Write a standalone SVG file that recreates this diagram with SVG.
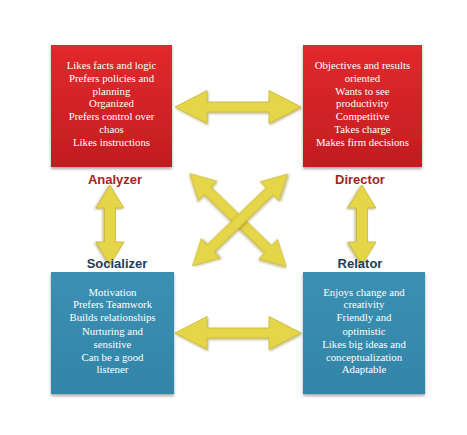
<svg xmlns="http://www.w3.org/2000/svg" width="467" height="435" viewBox="0 0 467 435">
<style>
.body{font-family:"Liberation Serif","Times New Roman",serif;font-size:10.8px;fill:#ffffff;text-anchor:middle}
.lab{font-family:"Liberation Sans",Arial,sans-serif;font-size:13px;font-weight:bold;text-anchor:middle}
.red{fill:#a82222}
.blue{fill:#1f3d5a}
.arrow{fill:#e5d548;stroke:#c9b632;stroke-width:0.8;filter:url(#ash)}
</style>
<defs>
<linearGradient id="rg" x1="0" y1="0" x2="0" y2="1">
<stop offset="0" stop-color="#e2292d"/>
<stop offset="1" stop-color="#c21d21"/>
</linearGradient>
<linearGradient id="bg" x1="0" y1="0" x2="0" y2="1">
<stop offset="0" stop-color="#3b90b2"/>
<stop offset="1" stop-color="#3385a8"/>
</linearGradient>
<filter id="bsh" x="-10%" y="-10%" width="120%" height="125%">
<feDropShadow dx="0" dy="2" stdDeviation="1.8" flood-color="#000" flood-opacity="0.35"/>
</filter>
<filter id="ash" x="-20%" y="-20%" width="140%" height="140%">
<feDropShadow dx="1" dy="1.5" stdDeviation="1" flood-color="#7a6a10" flood-opacity="0.45"/>
</filter>
</defs>
<rect width="467" height="435" fill="#ffffff"/>

<g id="connectors">
<path class="arrow" transform="translate(238,107)" d="M-63 0 L-31 -16.5 L-31 -5 L31 -5 L31 -16.5 L63 0 L31 16.5 L31 5 L-31 5 L-31 16.5 Z"/>
<path class="arrow" transform="translate(238,333)" d="M-63 0 L-31 -16.5 L-31 -5 L31 -5 L31 -16.5 L63 0 L31 16.5 L31 5 L-31 5 L-31 16.5 Z"/>
<path class="arrow" transform="translate(110,225) rotate(90)" d="M-40 0 L-17 -14 L-17 -5.5 L17 -5.5 L17 -14 L40 0 L17 14 L17 5.5 L-17 5.5 L-17 14 Z"/>
<path class="arrow" transform="translate(362,225) rotate(90)" d="M-40 0 L-17 -14 L-17 -5.5 L17 -5.5 L17 -14 L40 0 L17 14 L17 5.5 L-17 5.5 L-17 14 Z"/>
<path class="arrow" transform="translate(238,220) rotate(44)" d="M-67 0 L-42 -13.5 L-42 -5 L42 -5 L42 -13.5 L67 0 L42 13.5 L42 5 L-42 5 L-42 13.5 Z"/>
<path class="arrow" transform="translate(240,220) rotate(-44)" d="M-66 0 L-41 -13.5 L-41 -5 L41 -5 L41 -13.5 L66 0 L41 13.5 L41 5 L-41 5 L-41 13.5 Z"/>
</g>

<g id="analyzer">
<rect x="51" y="45" width="121" height="122" fill="url(#rg)" filter="url(#bsh)"/>
<text class="body" x="111.5" y="69">Likes facts and logic</text>
<text class="body" x="111.5" y="82">Prefers policies and</text>
<text class="body" x="111.5" y="95">planning</text>
<text class="body" x="111.5" y="107">Organized</text>
<text class="body" x="111.5" y="120">Prefers control over</text>
<text class="body" x="111.5" y="133">chaos</text>
<text class="body" x="111.5" y="146">Likes instructions</text>
<text class="lab red" x="115" y="184">Analyzer</text>
</g>

<g id="director">
<rect x="303" y="45" width="119" height="122" fill="url(#rg)" filter="url(#bsh)"/>
<text class="body" x="362.5" y="69">Objectives and results</text>
<text class="body" x="362.5" y="82">oriented</text>
<text class="body" x="362.5" y="95">Wants to see</text>
<text class="body" x="362.5" y="107">productivity</text>
<text class="body" x="362.5" y="120">Competitive</text>
<text class="body" x="362.5" y="133">Takes charge</text>
<text class="body" x="362.5" y="146">Makes firm decisions</text>
<text class="lab red" x="360" y="184">Director</text>
</g>

<g id="socializer">
<rect x="51" y="272" width="123" height="122" fill="url(#bg)" filter="url(#bsh)"/>
<text class="body" x="112.5" y="296">Motivation</text>
<text class="body" x="112.5" y="308">Prefers Teamwork</text>
<text class="body" x="112.5" y="321">Builds relationships</text>
<text class="body" x="112.5" y="335">Nurturing and</text>
<text class="body" x="112.5" y="348">sensitive</text>
<text class="body" x="112.5" y="361">Can be a good</text>
<text class="body" x="112.5" y="373">listener</text>
<text class="lab blue" x="117" y="268">Socializer</text>
</g>

<g id="relator">
<rect x="303" y="272" width="122" height="122" fill="url(#bg)" filter="url(#bsh)"/>
<text class="body" x="364" y="296">Enjoys change and</text>
<text class="body" x="364" y="308">creativity</text>
<text class="body" x="364" y="321">Friendly and</text>
<text class="body" x="364" y="335">optimistic</text>
<text class="body" x="364" y="348">Likes big ideas and</text>
<text class="body" x="364" y="361">conceptualization</text>
<text class="body" x="364" y="373">Adaptable</text>
<text class="lab blue" x="360" y="268">Relator</text>
</g>
</svg>
